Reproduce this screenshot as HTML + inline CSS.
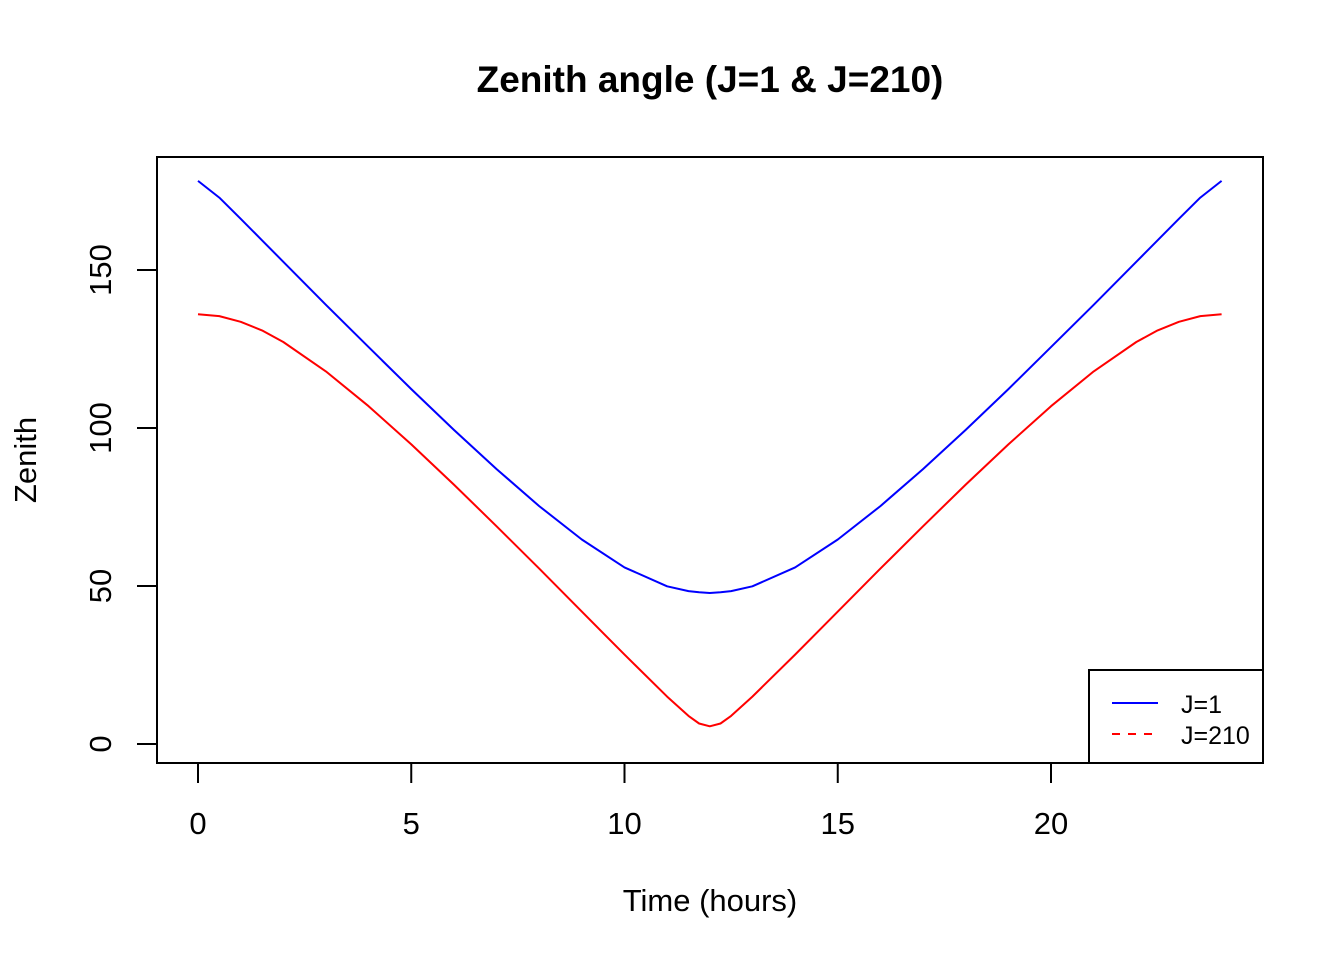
<!DOCTYPE html>
<html><head><meta charset="utf-8"><style>
html,body{margin:0;padding:0;background:#fff;}
svg{display:block;font-family:"Liberation Sans",Arial,sans-serif;}
</style></head><body>
<svg id="chart" width="1344" height="960" viewBox="0 0 1344 960">
<text x="710" y="92" text-anchor="middle" font-size="37" font-weight="bold">Zenith angle (J=1 &amp; J=210)</text>
<rect x="157" y="157" width="1106" height="606" fill="none" stroke="#000" stroke-width="2"/>
<g id="xaxis"></g>
<g id="yaxis"></g>
<text x="710" y="911" text-anchor="middle" font-size="31">Time (hours)</text>
<text x="0" y="0" transform="translate(36,460) rotate(-90)" text-anchor="middle" font-size="31">Zenith</text>
<g id="series"></g>
<g>
<rect x="1089" y="670" width="174" height="93" fill="#fff" stroke="#000" stroke-width="2"/>
<line x1="1112" y1="703" x2="1158" y2="703" stroke="#0000ff" stroke-width="2"/>
<text x="1181" y="713" font-size="25">J=1</text>
<line x1="1112" y1="734" x2="1158" y2="734" stroke="#ff0000" stroke-width="2" stroke-dasharray="8,8"/>
<text x="1181" y="744" font-size="25">J=210</text>
</g>
</svg>
<script>
const hoursHalf = [0,0.5,1,1.5,2,3,4,5,6,7,8,9,10,11,11.5,11.75,12];
const zenithJ1Half = [178.2,172.9,166.2,159.4,152.6,139.0,125.6,112.3,99.4,87.0,75.3,64.7,55.9,49.9,48.4,48.0,47.8];
const zenithJ210Half = [136.0,135.4,133.6,130.9,127.2,117.9,106.9,94.8,82.1,68.9,55.5,41.9,28.3,15.0,8.9,6.5,5.6];
const xTicks = [0,5,10,15,20];
const yTicks = [0,50,100,150];

const NS="http://www.w3.org/2000/svg";
function xs(v){return 198+v*42.65;}
function ys(v){return 744-v*3.16;}
function mk(tag,attrs,parent){const e=document.createElementNS(NS,tag);for(const k in attrs)e.setAttribute(k,attrs[k]);parent.appendChild(e);return e;}

const xa=document.getElementById('xaxis');
mk('line',{x1:xs(0),y1:763,x2:xs(20),y2:763,stroke:'#000','stroke-width':2},xa);
xTicks.forEach(t=>{
  const l=mk('line',{x1:xs(t),y1:763,x2:xs(t),y2:783,stroke:'#000','stroke-width':2},xa);
  
  
  const tx=mk('text',{x:xs(t),y:834,'text-anchor':'middle','font-size':31},xa);
  tx.textContent=t;
  
  
});
const ya=document.getElementById('yaxis');
mk('line',{x1:157,y1:ys(0),x2:157,y2:ys(150),stroke:'#000','stroke-width':2},ya);
yTicks.forEach(t=>{
  const l=mk('line',{x1:137,y1:ys(t),x2:157,y2:ys(t),stroke:'#000','stroke-width':2},ya);
  
  
  const tx=mk('text',{x:0,y:0,transform:`translate(111,${ys(t)}) rotate(-90)`,'text-anchor':'middle','font-size':31},ya);
  tx.textContent=t;
  
  
});

function full(hs,vs){
  const pts=hs.map((h,i)=>[h,vs[i]]);
  for(let i=hs.length-2;i>=0;i--)pts.push([24-hs[i],vs[i]]);
  return pts;
}
const sg=document.getElementById('series');
function draw(vals,color,name){
  const pts=full(hoursHalf,vals);
  const d=pts.map((p,i)=>(i?'L':'M')+xs(p[0]).toFixed(1)+' '+ys(p[1]).toFixed(1)).join(' ');
  const p=mk('path',{d:d,fill:'none',stroke:color,'stroke-width':2,'stroke-linejoin':'round'},sg);
  
  
}
draw(zenithJ1Half,'#0000ff','line-j1');
draw(zenithJ210Half,'#ff0000','line-j210');
</script>
</body></html>
